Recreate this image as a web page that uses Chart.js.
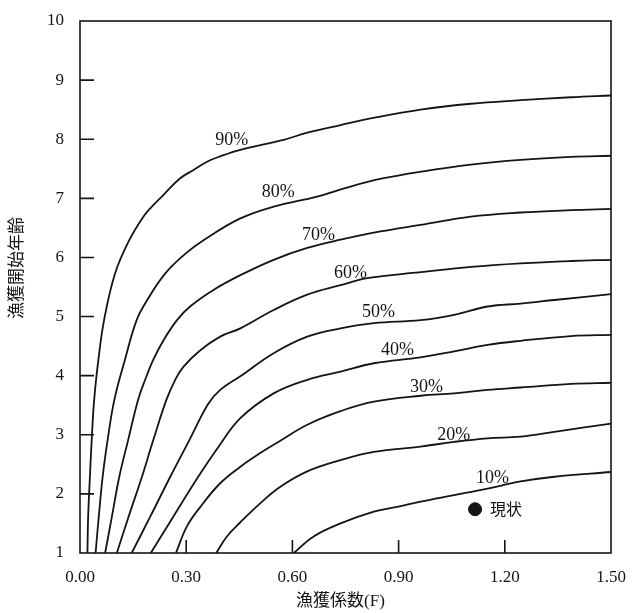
<!DOCTYPE html>
<html lang="ja">
<head>
<meta charset="utf-8">
<title>漁獲開始年齢と漁獲係数</title>
<script src="https://cdn.jsdelivr.net/npm/chart.js@4.4.1/dist/chart.umd.min.js"></script>
<style>
  html, body { margin: 0; padding: 0; background: #fff; }
  #wrap { width: 638px; height: 613px; }
</style>
</head>
<body>
<div id="wrap"><canvas id="isoChart"></canvas></div>
<script>
// Iso-lines, [F, age] pairs from the bottom edge to F = 1.5
const curve90 = [[0.021,1.00],[0.023,1.61],[0.028,2.29],[0.033,2.91],[0.040,3.59],[0.052,4.27],[0.068,4.94],[0.099,5.73],[0.138,6.28],[0.179,6.69],[0.203,6.86],[0.236,7.06],[0.283,7.34],[0.321,7.48],[0.359,7.62],[0.396,7.71],[0.453,7.82],[0.575,7.99],[0.642,8.11],[0.736,8.24],[0.829,8.36],[0.962,8.50],[1.104,8.60],[1.245,8.66],[1.387,8.71],[1.500,8.74]];
const curve80 = [[0.044,1.00],[0.053,1.61],[0.064,2.29],[0.078,2.91],[0.097,3.59],[0.127,4.27],[0.160,4.94],[0.190,5.28],[0.241,5.73],[0.297,6.06],[0.351,6.30],[0.453,6.66],[0.547,6.86],[0.670,7.03],[0.764,7.20],[0.858,7.34],[0.962,7.45],[1.104,7.57],[1.245,7.65],[1.387,7.70],[1.500,7.72]];
const curve70 = [[0.071,1.00],[0.090,1.61],[0.111,2.29],[0.136,2.91],[0.164,3.59],[0.184,3.93],[0.207,4.27],[0.236,4.60],[0.274,4.94],[0.311,5.17],[0.377,5.45],[0.453,5.70],[0.547,5.96],[0.642,6.16],[0.736,6.30],[0.849,6.44],[0.962,6.55],[1.104,6.69],[1.245,6.76],[1.387,6.80],[1.500,6.82]];
const curve60 = [[0.104,1.00],[0.137,1.61],[0.175,2.29],[0.207,2.91],[0.244,3.59],[0.269,3.93],[0.292,4.15],[0.340,4.43],[0.396,4.66],[0.453,4.80],[0.547,5.11],[0.642,5.37],[0.736,5.53],[0.811,5.65],[0.962,5.75],[1.104,5.84],[1.245,5.90],[1.387,5.94],[1.500,5.96]];
const curve50 = [[0.146,1.00],[0.198,1.61],[0.255,2.29],[0.309,2.91],[0.362,3.52],[0.396,3.76],[0.453,3.99],[0.547,4.38],[0.642,4.66],[0.736,4.80],[0.830,4.89],[0.962,4.94],[1.057,5.03],[1.151,5.17],[1.245,5.22],[1.340,5.28],[1.500,5.38]];
const curve40 = [[0.200,1.00],[0.263,1.61],[0.334,2.29],[0.393,2.81],[0.453,3.28],[0.547,3.70],[0.642,3.93],[0.736,4.07],[0.830,4.21],[0.962,4.31],[1.057,4.41],[1.151,4.52],[1.245,4.59],[1.387,4.67],[1.500,4.69]];
const curve30 = [[0.271,1.00],[0.302,1.45],[0.340,1.78],[0.396,2.18],[0.453,2.46],[0.509,2.69],[0.566,2.90],[0.642,3.17],[0.736,3.40],[0.830,3.56],[0.962,3.66],[1.057,3.70],[1.151,3.76],[1.245,3.80],[1.387,3.86],[1.500,3.88]];
const curve20 = [[0.385,1.00],[0.415,1.28],[0.453,1.52],[0.509,1.84],[0.566,2.12],[0.642,2.38],[0.736,2.57],[0.830,2.71],[0.962,2.80],[1.057,2.88],[1.151,2.94],[1.245,2.97],[1.340,3.05],[1.500,3.19]];
const curve10 = [[0.604,1.00],[0.660,1.28],[0.736,1.50],[0.830,1.70],[0.896,1.78],[0.962,1.87],[1.057,1.98],[1.151,2.09],[1.245,2.21],[1.340,2.29],[1.500,2.37]];

// Curve labels and where they sit (F, age)
const curveNames = ['90%', '80%', '70%', '60%', '50%', '40%', '30%', '20%', '10%'];
const labelF     = [0.429, 0.560, 0.674, 0.764, 0.843, 0.897, 0.979, 1.056, 1.165];
const labelAge   = [7.99, 7.11, 6.38, 5.74, 5.08, 4.43, 3.81, 3.00, 2.27];

// Current state marker
const nowF = [1.116];
const nowAge = [1.74];
const nowText = '現状';

// Axes
const xTicks = [0, 0.3, 0.6, 0.9, 1.2, 1.5];
const yTicks = [1, 2, 3, 4, 5, 6, 7, 8, 9, 10];
const xTitle = '漁獲係数(F)';
const yTitle = '漁獲開始年齢';

const INK = '#141414';
const SERIF = '"Liberation Serif", "Noto Sans CJK JP", serif';

// ─── Frame, inward ticks, labels ────────────────────────────────

const overlay = {
  id: 'overlay',
  afterDatasetsDraw(chart) {
    const { ctx, chartArea: a, scales: { x, y } } = chart;
    ctx.save();
    ctx.strokeStyle = INK;
    ctx.lineWidth = 1.6;
    ctx.strokeRect(a.left, a.top, a.right - a.left, a.bottom - a.top);

    ctx.beginPath();
    xTicks.slice(1, -1).forEach((v) => {
      const px = x.getPixelForValue(v);
      ctx.moveTo(px, a.bottom);
      ctx.lineTo(px, a.bottom - 13);
    });
    yTicks.slice(1, -1).forEach((v) => {
      const py = y.getPixelForValue(v);
      ctx.moveTo(a.left, py);
      ctx.lineTo(a.left + 14, py);
    });
    ctx.stroke();

    ctx.fillStyle = INK;
    ctx.textAlign = 'center';
    ctx.textBaseline = 'middle';
    ctx.font = '18px ' + SERIF;
    curveNames.forEach((t, i) => {
      ctx.fillText(t, x.getPixelForValue(labelF[i]), y.getPixelForValue(labelAge[i]));
    });

    ctx.textAlign = 'left';
    ctx.font = '16px "Noto Sans CJK JP", sans-serif';
    ctx.fillText(nowText, x.getPixelForValue(nowF[0]) + 15, y.getPixelForValue(nowAge[0]));

    // axis titles
    ctx.textAlign = 'center';
    ctx.font = '17px ' + SERIF;
    ctx.fillText(xTitle, (a.left + a.right) / 2 - 5, a.bottom + 49);
    ctx.translate(a.left - 62, (a.top + a.bottom) / 2 - 19);
    ctx.rotate(-Math.PI / 2);
    ctx.fillText(yTitle, 0, 0);
    ctx.restore();
  },
};

// ─── Chart ──────────────────────────────────────────────────────

function curveDataset(points) {
  return {
    data: points.map(([f, age]) => ({ x: f, y: age })),
    showLine: true,
    borderColor: INK,
    borderWidth: 1.8,
    pointRadius: 0,
    tension: 0.4,
    fill: false,
  };
}

const tickFont = { family: SERIF, size: 17 };

new Chart(document.getElementById('isoChart'), {
  type: 'scatter',
  data: {
    datasets: [
      curveDataset(curve90),
      curveDataset(curve80),
      curveDataset(curve70),
      curveDataset(curve60),
      curveDataset(curve50),
      curveDataset(curve40),
      curveDataset(curve30),
      curveDataset(curve20),
      curveDataset(curve10),
      {
        data: nowF.map((f, i) => ({ x: f, y: nowAge[i] })),
        pointRadius: 6.5,
        pointBackgroundColor: INK,
        pointBorderColor: INK,
        showLine: false,
      },
    ],
  },
  options: {
    responsive: true,
    maintainAspectRatio: false,
    animation: false,
    layout: { padding: { left: 0, right: 27, top: 21, bottom: 0 } },
    plugins: {
      legend: { display: false },
      tooltip: { enabled: false },
    },
    scales: {
      x: {
        type: 'linear',
        min: 0,
        max: 1.5,
        afterBuildTicks: (s) => { s.ticks = xTicks.map((v) => ({ value: v })); },
        afterFit: (s) => { s.height = 60; },
        grid: { display: false },
        border: { display: false },
        ticks: {
          autoSkip: false,
          maxRotation: 0,
          padding: 6,
          color: INK,
          font: tickFont,
          callback: (v) => Number(v).toFixed(2),
        },
      },
      y: {
        type: 'linear',
        min: 1,
        max: 10,
        afterBuildTicks: (s) => { s.ticks = yTicks.map((v) => ({ value: v })); },
        afterFit: (s) => { s.width = 80; },
        grid: { display: false },
        border: { display: false },
        ticks: {
          autoSkip: false,
          padding: 8,
          color: INK,
          font: tickFont,
        },
      },
    },
  },
  plugins: [overlay],
});
</script>
</body>
</html>
